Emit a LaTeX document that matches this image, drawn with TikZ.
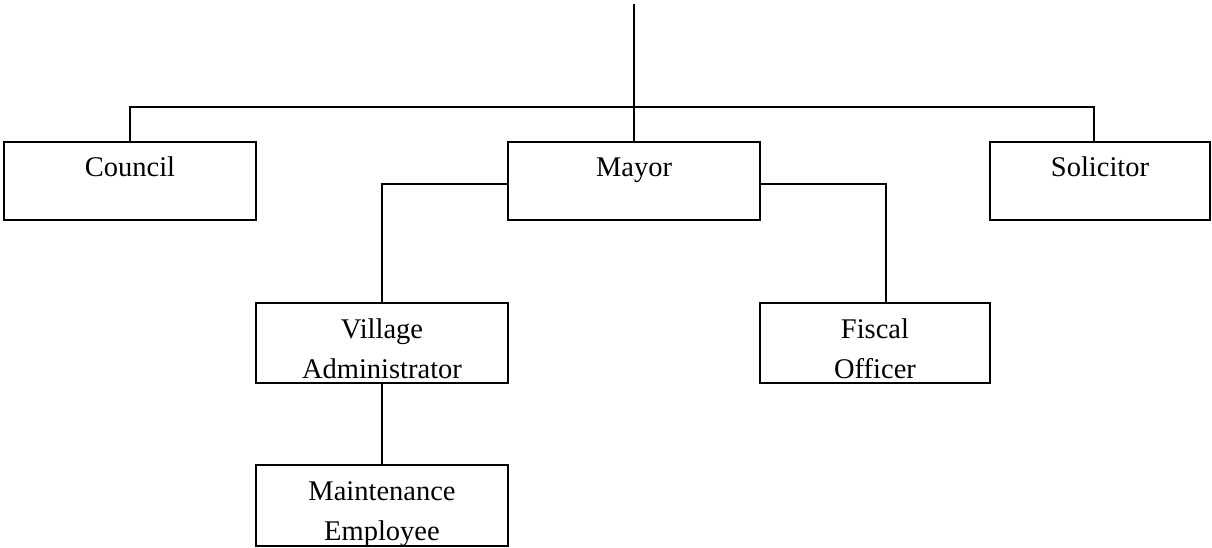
\documentclass[tikz,border=0pt]{standalone}
\usepackage{fontspec}
\setmainfont{Liberation Serif}
\newcommand\orgtext[3]{\parbox[c][#2][t]{#1}{\centering\fontsize{28.5pt}{40.7pt}\selectfont\rule{0pt}{35pt}#3\par}}
\tikzset{
  orgbox/.style={draw, line width=1.8pt, inner sep=0pt, outer sep=0pt, anchor=north west},
  link/.style={line width=1.8pt}
}
\begin{document}
\begin{tikzpicture}[x=1pt,y=-1pt]
\useasboundingbox (0,0) rectangle (1212,548);
\node[orgbox] (council) at (4,142) {\orgtext{252pt}{78pt}{Council}};
\node[orgbox] (mayor) at (508,142) {\orgtext{252pt}{78pt}{Mayor}};
\node[orgbox] (solicitor) at (990,142) {\orgtext{220pt}{78pt}{Solicitor}};
\node[orgbox] (village) at (256,303) {\orgtext{252pt}{80pt}{Village\\Administrator}};
\node[orgbox] (fiscal) at (760,303) {\orgtext{230pt}{80pt}{Fiscal\\Officer}};
\node[orgbox] (maint) at (256,465) {\orgtext{252pt}{81pt}{Maintenance\\Employee}};
\coordinate (top) at (634,4);
\coordinate (hbar) at (634,107);
\draw[link] (top) -- (mayor.north);
\draw[link] (council.north) |- (hbar) -| ([xshift=-6pt]solicitor.north);
\draw[link] ([yshift=-3pt]mayor.west) -| (village.north);
\draw[link] ([yshift=-3pt]mayor.east) -| ([xshift=11pt]fiscal.north);
\draw[link] (village.south) -- (maint.north);
\end{tikzpicture}
\end{document}
